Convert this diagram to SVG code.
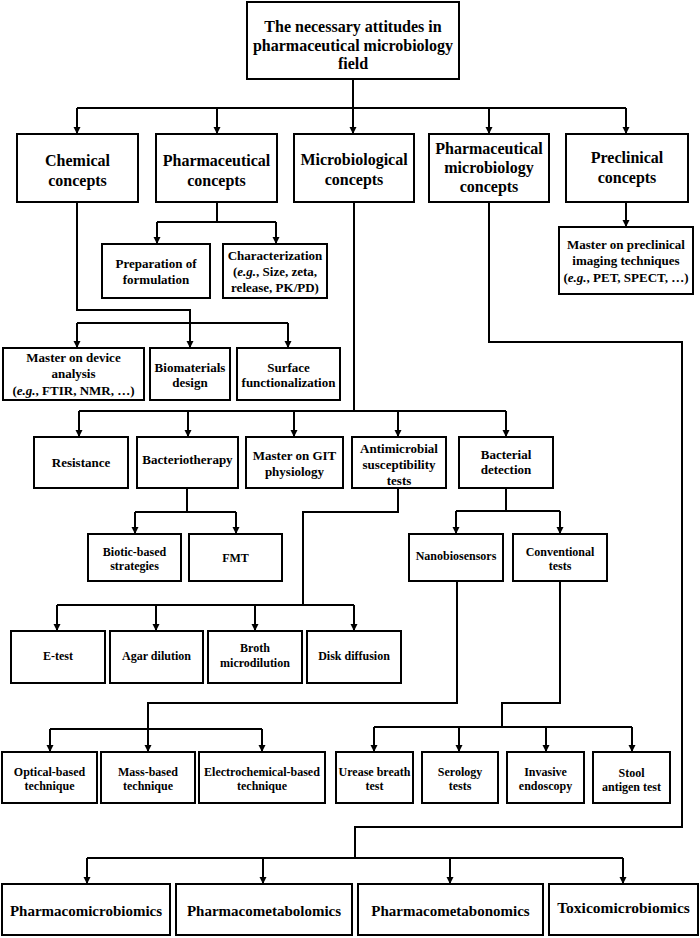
<svg xmlns="http://www.w3.org/2000/svg" width="700" height="938" viewBox="0 0 700 938">
<style>
.b{fill:#fff;stroke:#000;stroke-width:2}
text{font-family:"Liberation Serif","Times New Roman",serif;font-weight:bold;fill:#000;text-anchor:middle}
.t16{font-size:16px}.t13{font-size:13px}.t12{font-size:12px}.t15{font-size:15px}
.c path{fill:none;stroke:#000;stroke-width:2}
.c .a{marker-end:url(#ah)}
i{font-style:italic}
</style>
<defs>
<marker id="ah" markerUnits="userSpaceOnUse" markerWidth="7" markerHeight="8" refX="7" refY="3.5" orient="auto" viewBox="0 0 7 7"><path d="M0,0 L7,3.5 L0,7 z" fill="#000"/></marker>
</defs>
<rect width="700" height="938" fill="#fff"/>
<g class="c" id="connectors">
<path d="M353,79 V108 M77,108 H626"/>
<path class="a" d="M77,108 V134"/><path class="a" d="M217,108 V134"/><path class="a" d="M353,108 V134"/><path class="a" d="M489,108 V134"/><path class="a" d="M626,108 V134"/>
<path d="M217,202 V222 M157,222 H276"/>
<path class="a" d="M157,222 V244"/><path class="a" d="M276,222 V244"/>
<path class="a" d="M626,202 V227"/>
<path d="M77,202 V310 H190 V323 M77,323 H288"/>
<path class="a" d="M77,323 V348"/><path class="a" d="M190,323 V348"/><path class="a" d="M288,323 V348"/>
<path d="M354,202 V411 M79,411 H506"/>
<path class="a" d="M79,411 V437"/><path class="a" d="M188,411 V437"/><path class="a" d="M294,411 V437"/><path class="a" d="M398,411 V437"/><path class="a" d="M506,411 V437"/>
<path d="M187,488 V512 M135,512 H236"/>
<path class="a" d="M135,512 V534"/><path class="a" d="M236,512 V534"/>
<path d="M506,488 V511 M456,511 H560"/>
<path class="a" d="M456,511 V534"/><path class="a" d="M560,511 V534"/>
<path d="M398,488 V512 H303 V605 M57,605 H354"/>
<path class="a" d="M57,605 V631"/><path class="a" d="M156,605 V631"/><path class="a" d="M255,605 V631"/><path class="a" d="M354,605 V631"/>
<path d="M457,581 V703 H148 V729 M50,729 H262"/>
<path class="a" d="M50,729 V752"/><path class="a" d="M148,729 V752"/><path class="a" d="M262,729 V752"/>
<path d="M560,581 V703 H502 V727 M374,727 H632"/>
<path class="a" d="M374,727 V752"/><path class="a" d="M459,727 V752"/><path class="a" d="M546,727 V752"/><path class="a" d="M632,727 V752"/>
<path d="M489,202 V342 H682 V827 H355 V858 M87,858 H623"/>
<path class="a" d="M87,858 V884"/><path class="a" d="M263,858 V884"/><path class="a" d="M450,858 V884"/><path class="a" d="M623,858 V884"/>
</g>
<g id="root"><rect class="b" x="247" y="2" width="212" height="77"/><text class="t16" x="353" y="32">The necessary attitudes in</text><text class="t16" x="353" y="51">pharmaceutical microbiology</text><text class="t16" x="353" y="69">field</text></g>
<g id="chemical"><rect class="b" x="17" y="134" width="121" height="68"/><text class="t16" x="77.5" y="166">Chemical</text><text class="t16" x="77.5" y="186">concepts</text></g>
<g id="pharmaceutical"><rect class="b" x="156" y="134" width="121" height="68"/><text class="t16" x="216.5" y="166">Pharmaceutical</text><text class="t16" x="216.5" y="186">concepts</text></g>
<g id="microbiological"><rect class="b" x="294" y="134" width="120" height="68"/><text class="t16" x="354" y="165">Microbiological</text><text class="t16" x="354" y="185">concepts</text></g>
<g id="pharmmicro"><rect class="b" x="429" y="134" width="120" height="68"/><text class="t16" x="489" y="154">Pharmaceutical</text><text class="t16" x="489" y="173">microbiology</text><text class="t16" x="489" y="192">concepts</text></g>
<g id="preclinical"><rect class="b" x="566" y="134" width="122" height="68"/><text class="t16" x="627" y="163">Preclinical</text><text class="t16" x="627" y="183">concepts</text></g>
<g id="preparation"><rect class="b" x="102" y="244" width="108" height="54"/><text class="t13" x="156" y="267.5">Preparation of</text><text class="t13" x="156" y="283.5">formulation</text></g>
<g id="characterization"><rect class="b" x="223" y="244" width="104" height="54"/><text class="t13" x="275" y="259.5">Characterization</text><text class="t13" x="275" y="276">(<tspan font-style="italic">e.g.</tspan>, Size, zeta,</text><text class="t13" x="275" y="292">release, PK/PD)</text></g>
<g id="preclinical-imaging"><rect class="b" x="559" y="227" width="134" height="67"/><text class="t13" x="626" y="248.5">Master on preclinical</text><text class="t13" x="626" y="264.5">imaging techniques</text><text class="t13" x="626" y="281.5">(<tspan font-style="italic">e.g.</tspan>, PET, SPECT, …)</text></g>
<g id="device"><rect class="b" x="3" y="348" width="141" height="52"/><text class="t13" x="73.5" y="362">Master on device</text><text class="t13" x="73.5" y="378">analysis</text><text class="t13" x="73.5" y="395">(<tspan font-style="italic">e.g.</tspan>, FTIR, NMR, …)</text></g>
<g id="biomaterials"><rect class="b" x="150" y="348" width="80" height="52"/><text class="t13" x="190" y="371.5">Biomaterials</text><text class="t13" x="190" y="387">design</text></g>
<g id="surface"><rect class="b" x="237" y="348" width="103" height="52"/><text class="t13" x="288.5" y="371.5">Surface</text><text class="t13" x="288.5" y="387">functionalization</text></g>
<g id="resistance"><rect class="b" x="34" y="437" width="94" height="51"/><text class="t13" x="81" y="466.5">Resistance</text></g>
<g id="bacteriotherapy"><rect class="b" x="137" y="437" width="101" height="51"/><text class="t13" x="187.5" y="463.5">Bacteriotherapy</text></g>
<g id="git"><rect class="b" x="246" y="437" width="97" height="51"/><text class="t13" x="294.5" y="459.5">Master on GIT</text><text class="t13" x="294.5" y="475.5">physiology</text></g>
<g id="ast"><rect class="b" x="352" y="437" width="94" height="51"/><text class="t13" x="399" y="452.5">Antimicrobial</text><text class="t13" x="399" y="469">susceptibility</text><text class="t13" x="399" y="485">tests</text></g>
<g id="detection"><rect class="b" x="459" y="437" width="94" height="51"/><text class="t13" x="506" y="458.5">Bacterial</text><text class="t13" x="506" y="474">detection</text></g>
<g id="biotic"><rect class="b" x="88" y="534" width="93" height="47"/><text class="t12" x="134.5" y="556">Biotic-based</text><text class="t12" x="134.5" y="570">strategies</text></g>
<g id="fmt"><rect class="b" x="189" y="534" width="93" height="47"/><text class="t12" x="235.5" y="562">FMT</text></g>
<g id="nano"><rect class="b" x="409" y="534" width="94" height="47"/><text class="t12" x="456" y="560">Nanobiosensors</text></g>
<g id="conventional"><rect class="b" x="513" y="534" width="94" height="47"/><text class="t12" x="560" y="556">Conventional</text><text class="t12" x="560" y="570">tests</text></g>
<g id="etest"><rect class="b" x="11" y="631" width="94" height="52"/><text class="t12" x="58" y="660">E-test</text></g>
<g id="agar"><rect class="b" x="110" y="631" width="93" height="52"/><text class="t12" x="156.5" y="660">Agar dilution</text></g>
<g id="broth"><rect class="b" x="208" y="631" width="94" height="52"/><text class="t12" x="255" y="652">Broth</text><text class="t12" x="255" y="667">microdilution</text></g>
<g id="disk"><rect class="b" x="307" y="631" width="94" height="52"/><text class="t12" x="354" y="660">Disk diffusion</text></g>
<g id="optical"><rect class="b" x="2" y="752" width="95" height="51"/><text class="t12" x="49.5" y="776">Optical-based</text><text class="t12" x="49.5" y="790">technique</text></g>
<g id="mass"><rect class="b" x="101" y="752" width="94" height="51"/><text class="t12" x="148" y="776">Mass-based</text><text class="t12" x="148" y="790">technique</text></g>
<g id="electro"><rect class="b" x="199" y="752" width="126" height="51"/><text class="t12" x="262" y="776">Electrochemical-based</text><text class="t12" x="262" y="790">technique</text></g>
<g id="urease"><rect class="b" x="336" y="752" width="77" height="51"/><text class="t12" x="374.5" y="776">Urease breath</text><text class="t12" x="374.5" y="790">test</text></g>
<g id="serology"><rect class="b" x="422" y="752" width="76" height="51"/><text class="t12" x="460" y="776">Serology</text><text class="t12" x="460" y="790">tests</text></g>
<g id="invasive"><rect class="b" x="507" y="752" width="77" height="51"/><text class="t12" x="545.5" y="776">Invasive</text><text class="t12" x="545.5" y="790">endoscopy</text></g>
<g id="stool"><rect class="b" x="593" y="752" width="77" height="51"/><text class="t12" x="631.5" y="777">Stool</text><text class="t12" x="631.5" y="791">antigen test</text></g>
<g id="pharmacomicrobiomics"><rect class="b" x="2" y="884" width="168" height="51"/><text class="t15" x="86" y="916">Pharmacomicrobiomics</text></g>
<g id="pharmacometabolomics"><rect class="b" x="176" y="884" width="176" height="51"/><text class="t15" x="264" y="916">Pharmacometabolomics</text></g>
<g id="pharmacometabonomics"><rect class="b" x="358" y="884" width="185" height="51"/><text class="t15" x="450.5" y="916">Pharmacometabonomics</text></g>
<g id="toxicomicrobiomics"><rect class="b" x="549" y="884" width="149" height="51"/><text class="t15" x="623.5" y="913" style="font-size:15.5px">Toxicomicrobiomics</text></g>
</svg>
